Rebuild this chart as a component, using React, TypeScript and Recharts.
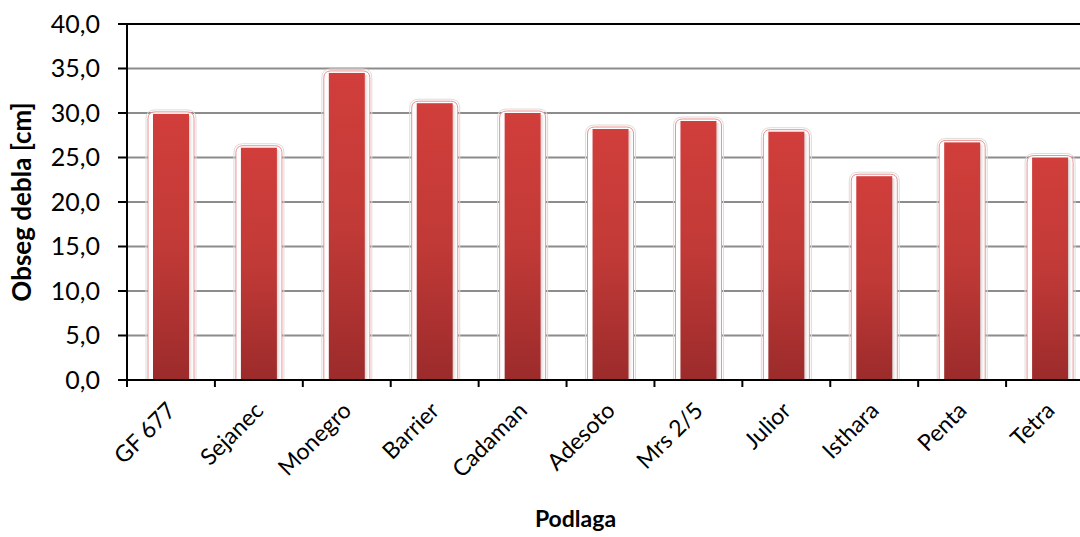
import React from 'react';
import { BarChart, Bar, XAxis, YAxis, CartesianGrid, ReferenceLine, Label } from 'recharts';

// rootstock names and trunk girth
const podlage = ['GF 677', 'Sejanec', 'Monegro', 'Barrier', 'Cadaman', 'Adesoto', 'Mrs 2/5', 'Julior', 'Isthara', 'Penta', 'Tetra'];
const obseg = [29.9, 26.1, 34.5, 31.1, 30.0, 28.2, 29.1, 27.9, 22.9, 26.7, 25.0];
const yTicks = [0, 5, 10, 15, 20, 25, 30, 35, 40];

const data = podlage.map((name, i) => ({ name, obseg: obseg[i] }));

const W = 1100;
const H = 537;
const Y_AXIS_W = 127;
const MARGIN = { top: 24, right: 6, bottom: 0, left: 0 };
const BAND = (W - Y_AXIS_W - MARGIN.right) / podlage.length;
const FONT = 'Lato, "Open Sans", sans-serif';

const fmt = (v: number) => v.toFixed(1).replace('.', ',');

// bar with soft halo, thin pink outline and vertical red gradient
const GlossyBar = (props: any) => {
  const { x, y, width, height } = props;
  if (!height || height <= 0) return null;
  const pad = 5;
  const r = 7;
  const hx = x - pad;
  const hw = width + pad * 2;
  const hy = y - 2;
  const bottom = y + height;
  const halo = `M${hx},${bottom} L${hx},${hy + r} Q${hx},${hy} ${hx + r},${hy} L${hx + hw - r},${hy} Q${hx + hw},${hy} ${hx + hw},${hy + r} L${hx + hw},${bottom}`;
  return (
    <g>
      <path d={halo + ' Z'} fill="#fff" stroke="none" />
      <path d={`M${hx - 2},${bottom} L${hx - 2},${hy + r} Q${hx - 2},${hy - 2} ${hx + r},${hy - 2} L${hx + hw - r},${hy - 2} Q${hx + hw + 2},${hy - 2} ${hx + hw + 2},${hy + r} L${hx + hw + 2},${bottom}`} fill="none" stroke="#dcdcdc" strokeWidth={1} />
      <path d={halo} fill="none" stroke="#ef8f8f" strokeWidth={1} />
      <rect x={x + width} y={y + 2} width={5} height={height - 2} fill="url(#barShade)" />
      <rect x={x} y={y} width={width} height={height} fill="url(#barFill)" />
    </g>
  );
};

// category label rotated 45° with a tick mark on the band boundary
const XTick = (props: any) => {
  const { x, y, payload, index } = props;
  const last = index === podlage.length - 1;
  const tx = x + 6;
  const ty = y + 32;
  return (
    <g>
      <line x1={x - BAND / 2} y1={y} x2={x - BAND / 2} y2={y + 7} stroke="#000" strokeWidth={2} />
      {last && <line x1={x + BAND / 2} y1={y} x2={x + BAND / 2} y2={y + 7} stroke="#000" strokeWidth={2} />}
      <text
        x={tx}
        y={ty}
        textAnchor="end"
        transform={`rotate(-45, ${tx}, ${ty})`}
        fontSize={23}
        fontFamily={FONT}
        fill="#000"
      >
        {payload.value}
      </text>
    </g>
  );
};

export default function App() {
  return (
    <div style={{ position: 'absolute', left: 0, top: 0, width: 1080, height: H, overflow: 'hidden', background: '#fff' }}>
      <BarChart width={W} height={H} data={data} margin={MARGIN} barCategoryGap="0%">
        <defs>
          <linearGradient id="barFill" x1="0" y1="0" x2="0" y2="1">
            <stop offset="0%" stopColor="#d13e3b" />
            <stop offset="50%" stopColor="#c13a37" />
            <stop offset="100%" stopColor="#9c2b2b" />
          </linearGradient>
          <linearGradient id="barShade" x1="0" y1="0" x2="1" y2="0">
            <stop offset="0%" stopColor="#cfcfcf" />
            <stop offset="100%" stopColor="#ffffff" stopOpacity={0} />
          </linearGradient>
        </defs>
        <CartesianGrid vertical={false} stroke="#8c8c8c" strokeWidth={2} />
        <XAxis
          dataKey="name"
          interval={0}
          height={H - 380}
          tickSize={0}
          tickMargin={0}
          axisLine={{ stroke: '#000', strokeWidth: 2 }}
          tick={<XTick />}
        >
          <Label
            value="Podlaga"
            position="insideBottom"
            offset={10}
            dx={-35}
            style={{ fontFamily: FONT, fontSize: 23, fontWeight: 700, fill: '#000' }}
          />
        </XAxis>
        <YAxis
          width={Y_AXIS_W}
          domain={[0, 40]}
          ticks={yTicks}
          tickFormatter={fmt}
          tickSize={9}
          tickMargin={18}
          axisLine={{ stroke: '#000', strokeWidth: 2 }}
          tickLine={{ stroke: '#000', strokeWidth: 2 }}
          tick={{ fontFamily: FONT, fontSize: 25, fill: '#000' }}
        >
          <Label
            value="Obseg debla [cm]"
            angle={-90}
            position="insideLeft"
            offset={22}
            style={{ fontFamily: FONT, fontSize: 26, fontWeight: 700, fill: '#000', textAnchor: 'middle' }}
          />
        </YAxis>
        <ReferenceLine y={40} stroke="#000" strokeWidth={2} />
        <Bar dataKey="obseg" barSize={36} shape={<GlossyBar />} isAnimationActive={false} />
      </BarChart>
    </div>
  );
}
